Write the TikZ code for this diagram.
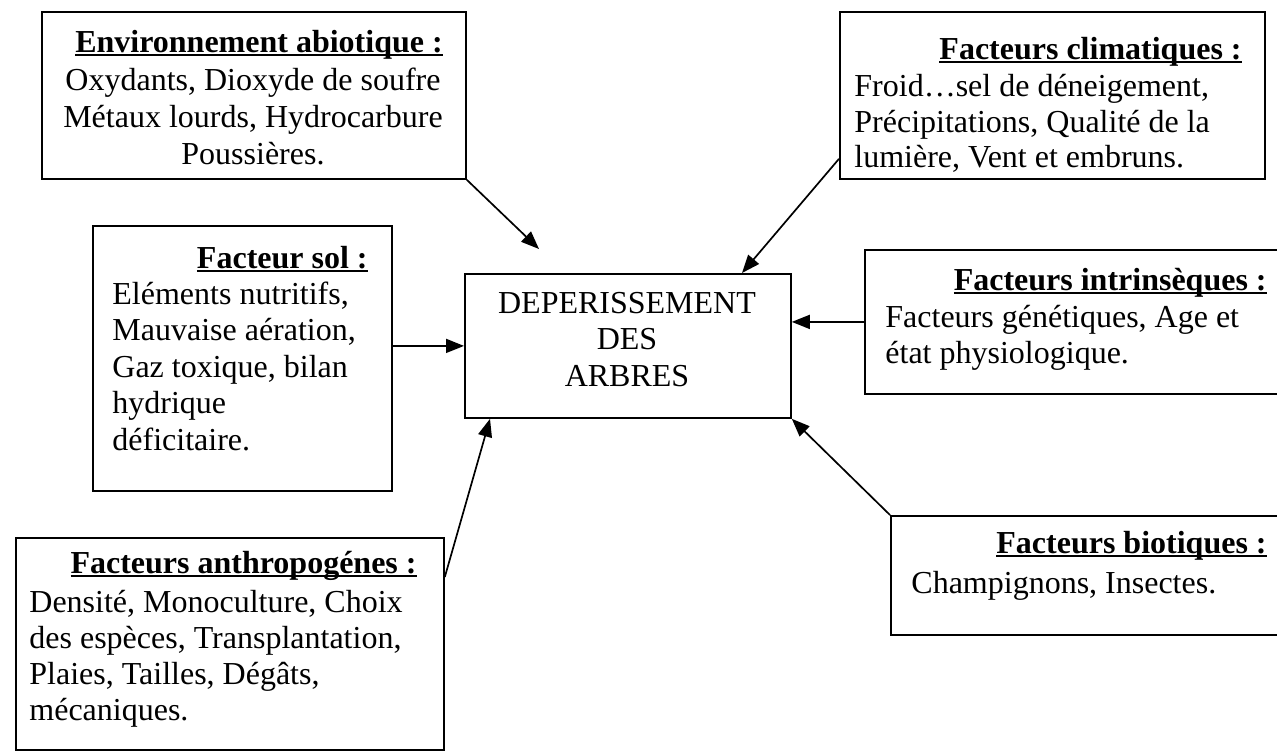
\documentclass[tikz,border=0pt]{standalone}
\usepackage{fontspec}
\setmainfont{Liberation Serif}
\usetikzlibrary{arrows.meta,calc}
\newcommand\titul[1]{\setbox0=\hbox{\bfseries #1}\rlap{\rule[-2pt]{\wd0}{1pt}}\box0}
\begin{document}
\begin{tikzpicture}[x=0.5pt,y=-0.5pt,
  boxe/.style={draw, line width=0.9pt, inner sep=0pt, anchor=north west},
  txt/.style={inner sep=0pt, font=\fontsize{16pt}{18pt}\selectfont},
  arr/.style={line width=0.85pt, -{Triangle[length=9pt,width=7pt]}}]
\useasboundingbox (0,0) rectangle (1277,751);

% boxes
\node[boxe, minimum width=212pt, minimum height=83.5pt] (abio) at (41,11) {};
\node[boxe, minimum width=212.5pt, minimum height=83.5pt] (clim) at (839,11) {};
\node[boxe, minimum width=149.5pt, minimum height=132.5pt] (sol) at (92,225) {};
\node[boxe, minimum width=163pt, minimum height=72pt] (cen) at (464,273) {};
\node[boxe, minimum width=213pt, minimum height=72pt] (intr) at (864,249) {};
\node[boxe, minimum width=214pt, minimum height=106pt] (anth) at (15,537) {};
\node[boxe, minimum width=200pt, minimum height=59.5pt] (bio) at (890,515) {};

% abiotique
\node[txt, anchor=base] (a0) at (259,52) {\titul{Environnement abiotique :}};
\node[txt, anchor=base] (a1) at (253,90) {Oxydants, Dioxyde de soufre};
\node[txt, anchor=base] (a2) at (253,127) {Métaux lourds, Hydrocarbure};
\node[txt, anchor=base] (a3) at (253,164) {Poussières.};

% climatiques
\node[txt, anchor=base east] (c0) at (1242,59) {\titul{Facteurs climatiques :}};
\node[txt, anchor=base west] (c1) at (854,96) {Froid\ldots sel de déneigement,};
\node[txt, anchor=base west] (c2) at (854,132) {Précipitations, Qualité de la};
\node[txt, anchor=base west] (c3) at (854,167) {lumière, Vent et embruns.};

% sol
\node[txt, anchor=base east] (s0) at (368,268) {\titul{Facteur sol :}};
\node[txt, anchor=base west] (s1) at (112,304) {Eléments nutritifs,};
\node[txt, anchor=base west] (s2) at (112,340) {Mauvaise aération,};
\node[txt, anchor=base west] (s3) at (112,377) {Gaz toxique, bilan};
\node[txt, anchor=base west] (s4) at (112,413) {hydrique};
\node[txt, anchor=base west] (s5) at (112,450) {déficitaire.};

% central
\node[txt, anchor=base] (d1) at (627,313) {DEPERISSEMENT};
\node[txt, anchor=base] (d2) at (627,349) {DES};
\node[txt, anchor=base] (d3) at (627,386) {ARBRES};

% intrinseques
\node[txt, anchor=base east] (i0) at (1267,290) {\titul{Facteurs intrinsèques :}};
\node[txt, anchor=base west] (i1) at (885,327) {Facteurs génétiques, Age et};
\node[txt, anchor=base west] (i2) at (885,363) {état physiologique.};

% anthropogenes
\node[txt, anchor=base east] (n0) at (417,573) {\titul{Facteurs anthropogénes :}};
\node[txt, anchor=base west] (n1) at (29,612) {Densité, Monoculture, Choix};
\node[txt, anchor=base west] (n2) at (29,648) {des espèces, Transplantation,};
\node[txt, anchor=base west] (n3) at (29,684) {Plaies, Tailles, Dégâts,};
\node[txt, anchor=base west] (n4) at (29,720) {mécaniques.};

% biotiques
\node[txt, anchor=base east] (b0) at (1267,553) {\titul{Facteurs biotiques :}};
\node[txt, anchor=base west] (b1) at (911,593) {Champignons, Insectes.};

% connectors
\coordinate (t1) at (539,249);
\draw[arr] (abio.south east) -- (t1);
\draw[arr] ($(clim.south west)+(0,-21)$) -- ($(cen.north west)+(278,0)$);
\draw[arr] (sol.east |- cen.west) -- (cen.west);
\draw[arr] (intr.west) -- (cen.east |- intr.west);
\draw[arr] ($(anth.north east)+(0,40)$) -- ($(cen.south west)+(26,0)$);
\draw[arr] (bio.north west) -- (cen.south east);
\end{tikzpicture}
\end{document}
